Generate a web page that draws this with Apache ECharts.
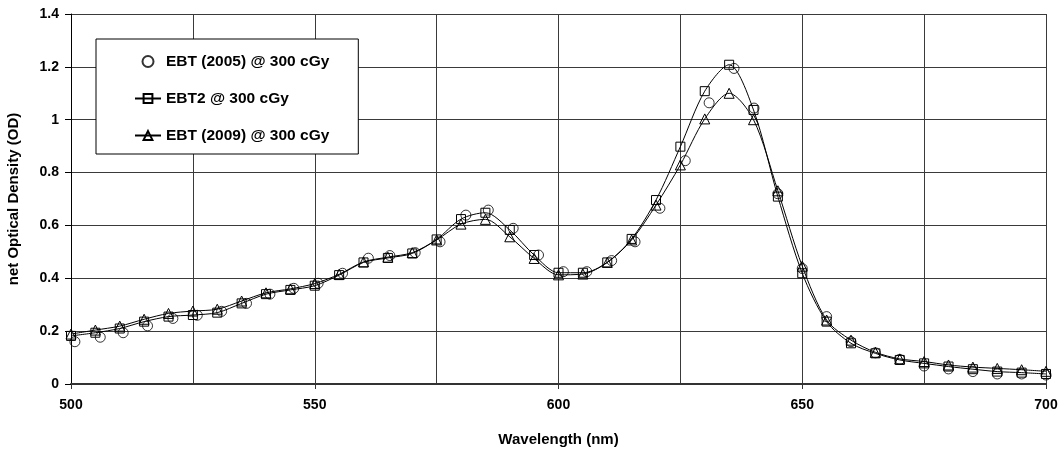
<!DOCTYPE html>
<html>
<head>
<meta charset="utf-8">
<script src="https://cdn.jsdelivr.net/npm/echarts@6/dist/echarts.min.js"></script>
<style>
  html, body { margin: 0; padding: 0; background: #fff; }
  #chart { width: 1063px; height: 450px; }
</style>
</head>
<body>
<div id="chart"></div>
<script>
// wavelengths (nm) for EBT2 and EBT (2009)
var wavelengths = [500, 505, 510, 515, 520, 525, 530, 535, 540, 545, 550, 555, 560, 565, 570,
  575, 580, 585, 590, 595, 600, 605, 610, 615, 620, 625, 630, 635, 640, 645, 650,
  655, 660, 665, 670, 675, 680, 685, 690, 695, 700]

var ebt2 = [0.182, 0.194, 0.210, 0.236, 0.255, 0.261, 0.270, 0.305, 0.340, 0.356, 0.372,
  0.412, 0.460, 0.477, 0.494, 0.547, 0.624, 0.648, 0.583, 0.488, 0.421, 0.421, 0.460,
  0.549, 0.696, 0.898, 1.108, 1.208, 1.037, 0.709, 0.419, 0.236, 0.154, 0.116, 0.091,
  0.078, 0.066, 0.056, 0.047, 0.043, 0.038]

var ebt2009 = [0.189, 0.204, 0.219, 0.245, 0.267, 0.276, 0.283, 0.314, 0.345, 0.360, 0.380,
  0.415, 0.462, 0.480, 0.497, 0.545, 0.605, 0.623, 0.557, 0.475, 0.413, 0.416, 0.460,
  0.545, 0.677, 0.829, 1.003, 1.100, 1.000, 0.731, 0.446, 0.242, 0.166, 0.120, 0.095,
  0.085, 0.072, 0.064, 0.059, 0.054, 0.048]

// EBT (2005) was measured on a slightly shifted grid
var wavelengths2005 = [500.8, 506, 510.7, 515.7, 520.9, 525.9, 530.9, 536, 540.8, 545.7,
  550.7, 555.7, 561, 565.4, 570.6, 575.7, 581, 585.6, 590.7, 595.9, 601, 605.8, 610.9,
  615.7, 620.8, 626, 630.9, 636, 640.1, 645, 650, 655, 660, 665, 670, 675, 680, 685,
  690, 695, 700]

var ebt2005 = [0.160, 0.177, 0.194, 0.220, 0.248, 0.260, 0.275, 0.305, 0.340, 0.362,
  0.381, 0.419, 0.476, 0.486, 0.497, 0.538, 0.639, 0.658, 0.589, 0.488, 0.425, 0.425,
  0.467, 0.538, 0.665, 0.845, 1.064, 1.194, 1.044, 0.720, 0.437, 0.255, 0.160, 0.118,
  0.093, 0.068, 0.057, 0.047, 0.038, 0.038, 0.034]

var seriesNames = ['EBT (2005) @ 300 cGy', 'EBT2 @ 300 cGy', 'EBT (2009) @ 300 cGy']

function pairs(xs, ys) {
  return xs.map(function (x, i) { return [x, ys[i]] })
}

var font = 'Liberation Sans, Arial, sans-serif'
var gridColor = '#3a3a3a'

var markerStyle = {
  color: 'rgba(255,255,255,0)',
  borderColor: '#000',
  borderWidth: 1
}

var chart = echarts.init(document.getElementById('chart'))

var option = {
  animation: false,
  backgroundColor: '#fff',
  grid: {
    left: 71,
    right: 17,
    top: 14,
    bottom: 66,
    outerBoundsMode: 'none'
  },
  legend: {
    orient: 'vertical',
    left: 96,
    top: 39,
    padding: [14, 29, 10, 38],
    itemWidth: 26,
    itemHeight: 11,
    itemGap: 20,
    backgroundColor: '#fff',
    borderColor: '#000',
    borderWidth: 1,
    borderRadius: 0,
    textStyle: {
      fontFamily: font,
      fontWeight: 'bold',
      fontSize: 15.5,
      color: '#000',
      lineHeight: 17
    },
    data: seriesNames
  },
  xAxis: {
    type: 'value',
    min: 500,
    max: 700,
    interval: 50,
    name: 'Wavelength (nm)',
    nameLocation: 'middle',
    nameGap: 48,
    nameTextStyle: { fontFamily: font, fontWeight: 'bold', fontSize: 15, color: '#000' },
    axisLine: { lineStyle: { color: '#333', width: 2 } },
    axisTick: { show: true, length: 5, lineStyle: { color: '#333' } },
    axisLabel: { fontFamily: font, fontWeight: 'bold', fontSize: 14, color: '#000', margin: 14 },
    splitLine: { show: true, lineStyle: { color: gridColor, width: 1 } },
    minorTick: { show: false, splitNumber: 2 },
    minorSplitLine: { show: true, lineStyle: { color: gridColor, width: 1 } }
  },
  yAxis: {
    type: 'value',
    min: 0,
    max: 1.4,
    interval: 0.2,
    name: 'net Optical Density (OD)',
    nameLocation: 'middle',
    nameGap: 50,
    nameTextStyle: { fontFamily: font, fontWeight: 'bold', fontSize: 15, color: '#000' },
    axisLine: { show: true, lineStyle: { color: '#000', width: 1 } },
    axisTick: { show: true, length: 6, lineStyle: { color: '#000' } },
    axisLabel: { fontFamily: font, fontWeight: 'bold', fontSize: 14, color: '#000', margin: 12 },
    splitLine: { show: true, lineStyle: { color: gridColor, width: 1 } }
  },
  series: [
    {
      name: seriesNames[0],
      type: 'scatter',
      symbol: 'circle',
      symbolSize: 10,
      itemStyle: markerStyle,
      data: pairs(wavelengths2005, ebt2005),
      z: 3
    },
    {
      name: seriesNames[1],
      type: 'line',
      smooth: 0.3,
      symbol: 'rect',
      symbolSize: 9,
      showAllSymbol: true,
      lineStyle: { color: '#000', width: 1 },
      itemStyle: markerStyle,
      data: pairs(wavelengths, ebt2),
      z: 4
    },
    {
      name: seriesNames[2],
      type: 'line',
      smooth: 0.3,
      symbol: 'triangle',
      symbolSize: 10,
      showAllSymbol: true,
      lineStyle: { color: '#000', width: 1 },
      itemStyle: markerStyle,
      data: pairs(wavelengths, ebt2009),
      z: 5
    }
  ]
}

chart.setOption(option)
</script>
</body>
</html>
